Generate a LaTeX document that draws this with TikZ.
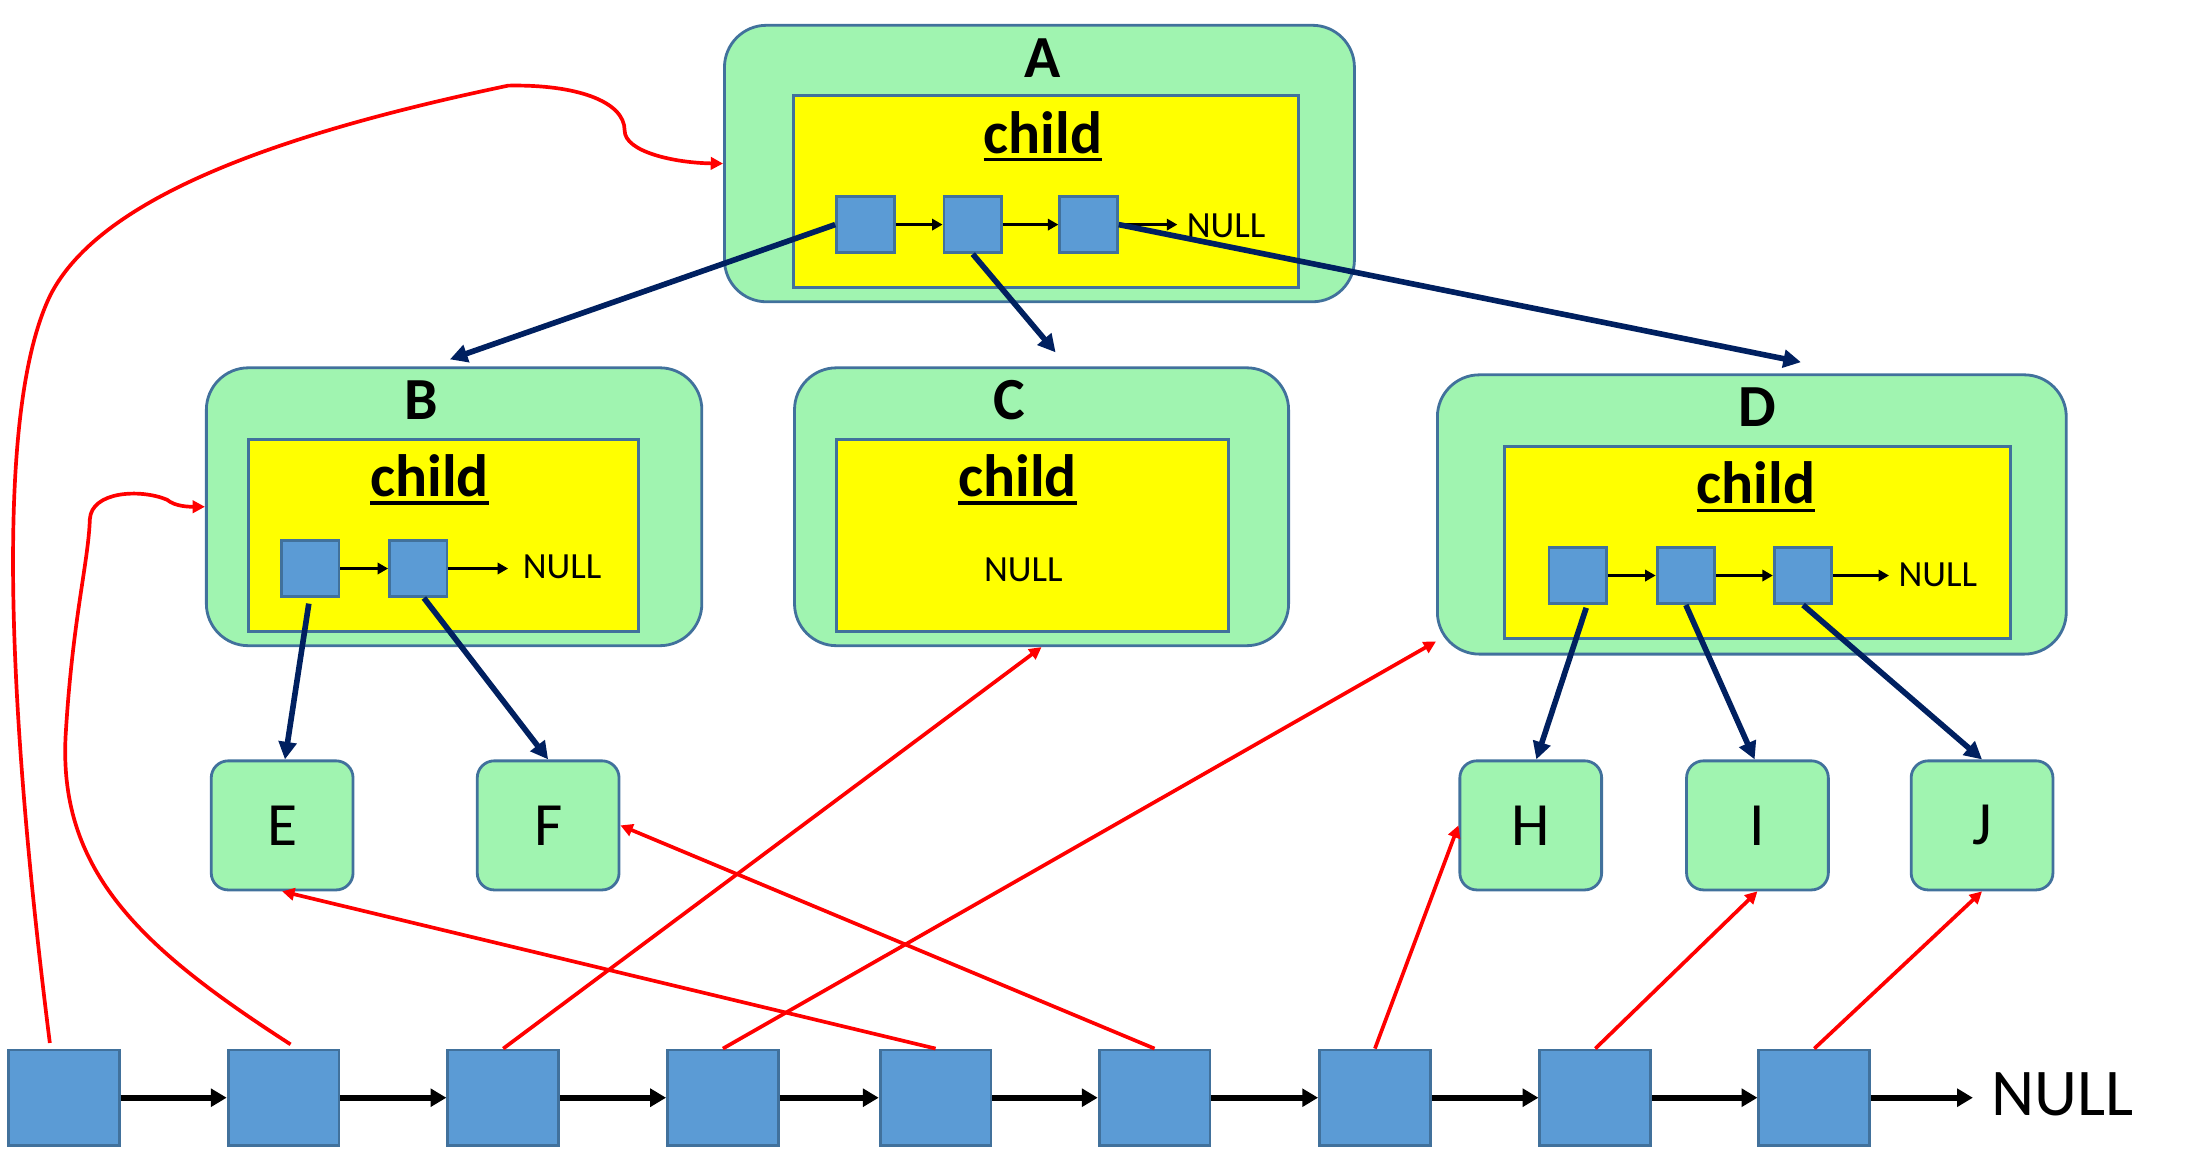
\documentclass[tikz,border=0pt]{standalone}
\usepackage{fontspec}
\setmainfont{Carlito}
\usetikzlibrary{arrows.meta,calc}
\definecolor{grn}{HTML}{A0F4B0}
\definecolor{bord}{HTML}{41719C}
\definecolor{boxb}{HTML}{5B9BD5}
\definecolor{navy}{HTML}{002060}
\definecolor{yel}{HTML}{FFFF00}
\newcommand{\myul}[1]{\setbox0\hbox{#1}\rlap{\copy0}\rule[-2.2pt]{\wd0}{0.9pt}}
\begin{document}
\begin{tikzpicture}[x=0.014037cm,y=-0.014037cm,
  outerbox/.style={draw=bord, fill=grn, rounded corners=0.42cm, line width=0.8pt, inner sep=0pt},
  yelbox/.style={draw=bord, fill=yel, line width=0.8pt, inner sep=0pt},
  smallbox/.style={draw=bord, fill=boxb, line width=0.8pt, minimum width=0.5755cm, minimum height=0.5615cm, inner sep=0pt},
  leaf/.style={draw=bord, fill=grn, rounded corners=0.17cm, line width=0.8pt, minimum width=1.418cm, minimum height=1.291cm, inner sep=0pt, font=\fontsize{17.5}{20}\selectfont},
  listbox/.style={draw=bord, fill=boxb, line width=0.8pt, minimum width=1.109cm, minimum height=0.9545cm, inner sep=0pt},
  navyarr/.style={draw=navy, line width=1.6pt, -{Triangle[length=5pt,width=5pt]}},
  redarr/.style={draw=red, line width=1.05pt, -{Triangle[length=3.5pt,width=3.5pt]}},
  nextarr/.style={draw=black, line width=1.7pt, -{Triangle[length=4.5pt,width=5pt]}},
  innerarr/.style={draw=black, line width=0.9pt, -{Triangle[length=3pt,width=3.2pt]}},
  titlelbl/.style={font=\bfseries\fontsize{17}{20}\selectfont, inner sep=0pt, anchor=base},
  childlbl/.style={font=\bfseries\fontsize{17}{20}\selectfont, inner sep=0pt, anchor=base},
  nullsmall/.style={font=\fontsize{10.5}{12}\selectfont, inner sep=0pt, anchor=base west},
  nullbig/.style={font=\fontsize{19}{22}\selectfont, inner sep=0pt, anchor=base west}
]
\useasboundingbox (0,0) rectangle (1568,833.5);

% ---------- A ----------
\node[outerbox, minimum width=6.30cm, minimum height=2.765cm] (A) at (740.5,116.5) {};
\node[yelbox, minimum width=5.053cm, minimum height=1.923cm] (Ay) at (745,136.5) {};
\node[titlelbl] (tA) at (743,55) {A};
\node[childlbl] (cA) at (743,109) {\myul{child}};
\node[smallbox] (a1) at (616.5,160) {};
\node[smallbox] (a2) at (693,160) {};
\node[smallbox] (a3) at (775.5,160) {};
\node[nullsmall] (nA) at (845,169) {NULL};

% ---------- B ----------
\node[outerbox, minimum width=4.955cm, minimum height=2.779cm] (B) at (323.5,361) {};
\node[yelbox, minimum width=3.902cm, minimum height=1.923cm] (By) at (316,381.5) {};
\node[titlelbl] (tB) at (300,299) {B};
\node[childlbl] (cB) at (306,354) {\myul{child}};
\node[smallbox] (b1) at (221,405) {};
\node[smallbox] (b2) at (298,405) {};
\node[nullsmall] (nB) at (372,412) {NULL};

% ---------- C ----------
\node[outerbox, minimum width=4.941cm, minimum height=2.779cm] (C) at (742,361) {};
\node[yelbox, minimum width=3.916cm, minimum height=1.923cm] (Cy) at (735.5,381.5) {};
\node[titlelbl] (tC) at (719,299) {C};
\node[childlbl] (cC) at (725,354) {\myul{child}};
\node[nullsmall, anchor=base] (nC) at (729,414) {NULL};

% ---------- D ----------
\node[outerbox, minimum width=6.289cm, minimum height=2.793cm] (D) at (1248,366.5) {};
\node[yelbox, minimum width=5.053cm, minimum height=1.923cm] (Dy) at (1252,386.5) {};
\node[titlelbl] (tD) at (1252,304) {D};
\node[childlbl] (cD) at (1251,359) {\myul{child}};
\node[smallbox] (d1) at (1124,410) {};
\node[smallbox] (d2) at (1201,410) {};
\node[smallbox] (d3) at (1284.5,410) {};
\node[nullsmall] (nD) at (1352,418) {NULL};

% ---------- leaves ----------
\node[leaf] (E) at (201,588) {E};
\node[leaf] (F) at (390.5,588) {F};
\node[leaf] (H) at (1090.5,588) {H};
\node[leaf] (I) at (1252,588) {I};
\node[leaf] (J) at (1412,588) {J};

% ---------- bottom list ----------
\node[listbox] (n1) at (45.5,782) {};
\node[listbox] (n2) at (202,782) {};
\node[listbox] (n3) at (358.5,782) {};
\node[listbox] (n4) at (515,782) {};
\node[listbox] (n5) at (666.5,782) {};
\node[listbox] (n6) at (822.5,782) {};
\node[listbox] (n7) at (979.5,782) {};
\node[listbox] (n8) at (1136.5,782) {};
\node[listbox] (n9) at (1292.5,782) {};
\node[nullbig] (nL) at (1418,795) {NULL};

% ---------- inner small arrows ----------
\draw[innerarr] (a1.east) -- (a2.west);
\draw[innerarr] (a2.east) -- (a3.west);
\draw[innerarr, shorten >=2.5pt] (a3.east) -- (a3.east -| nA.west);
\draw[innerarr] (b1.east) -- (b2.west);
\draw[innerarr, shorten >=4pt] (b2.east) -- (b2.east -| nB.west);
\draw[innerarr] (d1.east) -- (d2.west);
\draw[innerarr] (d2.east) -- (d3.west);
\draw[innerarr, shorten >=2.5pt] (d3.east) -- (d3.east -| nD.west);

% ---------- bottom list arrows ----------
\draw[nextarr] (n1.east) -- (n2.west);
\draw[nextarr] (n2.east) -- (n3.west);
\draw[nextarr] (n3.east) -- (n4.west);
\draw[nextarr] (n4.east) -- (n5.west);
\draw[nextarr] (n5.east) -- (n6.west);
\draw[nextarr] (n6.east) -- (n7.west);
\draw[nextarr] (n7.east) -- (n8.west);
\draw[nextarr] (n8.east) -- (n9.west);
\draw[nextarr, shorten >=5pt] (n9.east) -- (n9.east -| nL.west);

% ---------- navy child pointers ----------
\draw[navyarr] (a1.west) -- ($(B.north)+(-3,-5)$);
\draw[navyarr] (a2.south) -- ($(C.north)+(10,-10)$);
\draw[navyarr] (a3.east) -- ($(D.north)+(35,-8)$);
\draw[navyarr] ($(b1.south)+(-1,4)$) -- ($(E.north)+(2,0)$);
\draw[navyarr] ($(b2.south)+(4,0)$) -- (F.north);
\draw[navyarr] ($(d1.south)+(6,2)$) -- ($(H.north)+(4,0)$);
\draw[navyarr] (d2.south) -- ($(I.north)+(-2,0)$);
\draw[navyarr] (d3.south) -- (J.north);

% ---------- red parent pointers ----------
\draw[redarr] ($(n1.north)+(-10,-4)$) .. controls (10,540) and (-8,300) .. (36,210)
   .. controls (72,140) and (200,95) .. (362,61)
   .. controls (410,60) and (445,72) .. (445,93)
   .. controls (445,108) and (480,116) .. (A.west);
\draw[redarr] ($(n2.north)+(5,-3)$) .. controls (100,675) and (40,620) .. (47,520)
   .. controls (52,440) and (63,400) .. (64,370)
   .. controls (65,350) and (100,348) .. (119,356)
   .. controls (125,361) and (135,361) .. (B.west);
\draw[redarr] (n3.north) -- (C.south);
\draw[redarr] (n4.north) -- ($(D.south west)+(0,-10)$);
\draw[redarr] (n5.north) -- (E.south);
\draw[redarr] (n6.north) -- (F.east);
\draw[redarr] (n7.north) -- (H.west);
\draw[redarr] (n8.north) -- (I.south);
\draw[redarr] (n9.north) -- (J.south);
\end{tikzpicture}
\end{document}
